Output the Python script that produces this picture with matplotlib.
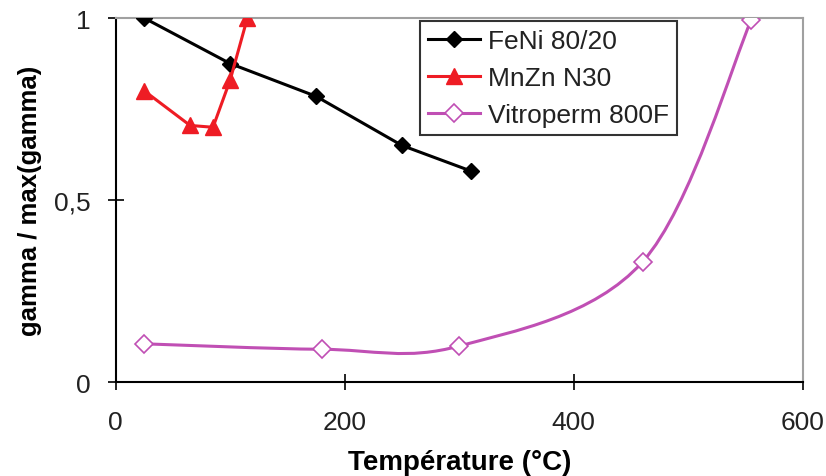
import numpy as np
import matplotlib
matplotlib.use('Agg')
import matplotlib.pyplot as plt
from matplotlib.path import Path
from matplotlib.patches import PathPatch

plt.rcParams['font.family'] = ['Liberation Sans', 'DejaVu Sans']

# data
feni_t = [25, 100, 175, 250, 310]
feni_g = [1.0, 0.875, 0.785, 0.65, 0.58]

mnzn_t = [25, 65, 85, 100, 115]
mnzn_g = [0.80, 0.705, 0.70, 0.83, 1.0]

vitro_t = [25, 180, 300, 460, 555]
vitro_g = [0.105, 0.09, 0.099, 0.33, 0.995]

x_ticks = [0, 200, 400, 600]
y_ticks = [0, 0.5, 1]
y_ticklabels = ['0', '0,5', '1']

black = '#000000'
red = '#ee1c24'
purple = '#c04fb4'


def smooth_path(xs, ys):
    # Excel-like smoothed line: cubic Bezier through each point
    pts = np.column_stack([xs, ys])
    n = len(pts)
    verts = [pts[0]]
    codes = [Path.MOVETO]
    for i in range(n - 1):
        p0 = pts[i - 1] if i > 0 else pts[i]
        p1 = pts[i]
        p2 = pts[i + 1]
        p3 = pts[i + 2] if i + 2 < n else pts[i + 1]
        c1 = p1 + (p2 - p0) / 6.0
        c2 = p2 - (p3 - p1) / 6.0
        verts += [c1, c2, p2]
        codes += [Path.CURVE4] * 3
    return Path(verts, codes)


fig = plt.figure(figsize=(8.26, 4.77), dpi=100)
ax = fig.add_axes([0.140, 0.197, 0.832, 0.763])

ax.plot(feni_t, feni_g, color=black, lw=2.2, marker='D', ms=8,
        label='FeNi 80/20', zorder=3)
ax.plot(mnzn_t, mnzn_g, color=red, lw=2.2, marker='^', ms=12,
        label='MnZn N30', zorder=3)

ax.add_patch(PathPatch(smooth_path(vitro_t, vitro_g), facecolor='none',
                       edgecolor=purple, lw=2.2, zorder=2))
ax.plot(vitro_t, vitro_g, ls='none', marker='D', ms=9, mfc='white',
        mec=purple, mew=1.2, zorder=4)
# legend handle for the smoothed series
ax.plot([], [], color=purple, lw=2.2, marker='D', ms=9, mfc='white',
        mec=purple, mew=1.2, label='Vitroperm 800F')

ax.set_xlim(0, 600)
ax.set_ylim(0, 1)
ax.set_xticks(x_ticks)
ax.set_yticks(y_ticks)
ax.set_yticklabels(y_ticklabels)
ax.tick_params(axis='both', labelsize=19, color=black, width=1.2,
               labelcolor='#222222')
ax.tick_params(axis='x', direction='inout', length=12, pad=14)
ax.tick_params(axis='y', direction='inout', length=12, pad=12)

for s in ['left', 'bottom']:
    ax.spines[s].set_color(black)
    ax.spines[s].set_linewidth(1.5)
for s in ['top', 'right']:
    ax.spines[s].set_color('#a0a0a0')
    ax.spines[s].set_linewidth(1.5)

ax.set_xlabel('Température (°C)', fontsize=20, fontweight='bold', labelpad=11)
ax.set_ylabel('gamma / max(gamma)', fontsize=18.5, fontweight='bold', labelpad=9)

leg = ax.legend(loc='upper left', bbox_to_anchor=(0.4425, 0.992), fontsize=19,
                frameon=True, fancybox=False, handlelength=2.0,
                borderpad=0.3, labelspacing=0.5, handletextpad=0.3,
                borderaxespad=0)
leg.get_frame().set_edgecolor(black)
leg.get_frame().set_linewidth(1.5)
for t in leg.get_texts():
    t.set_color('#222222')

fig.savefig('out.png', dpi=100)
